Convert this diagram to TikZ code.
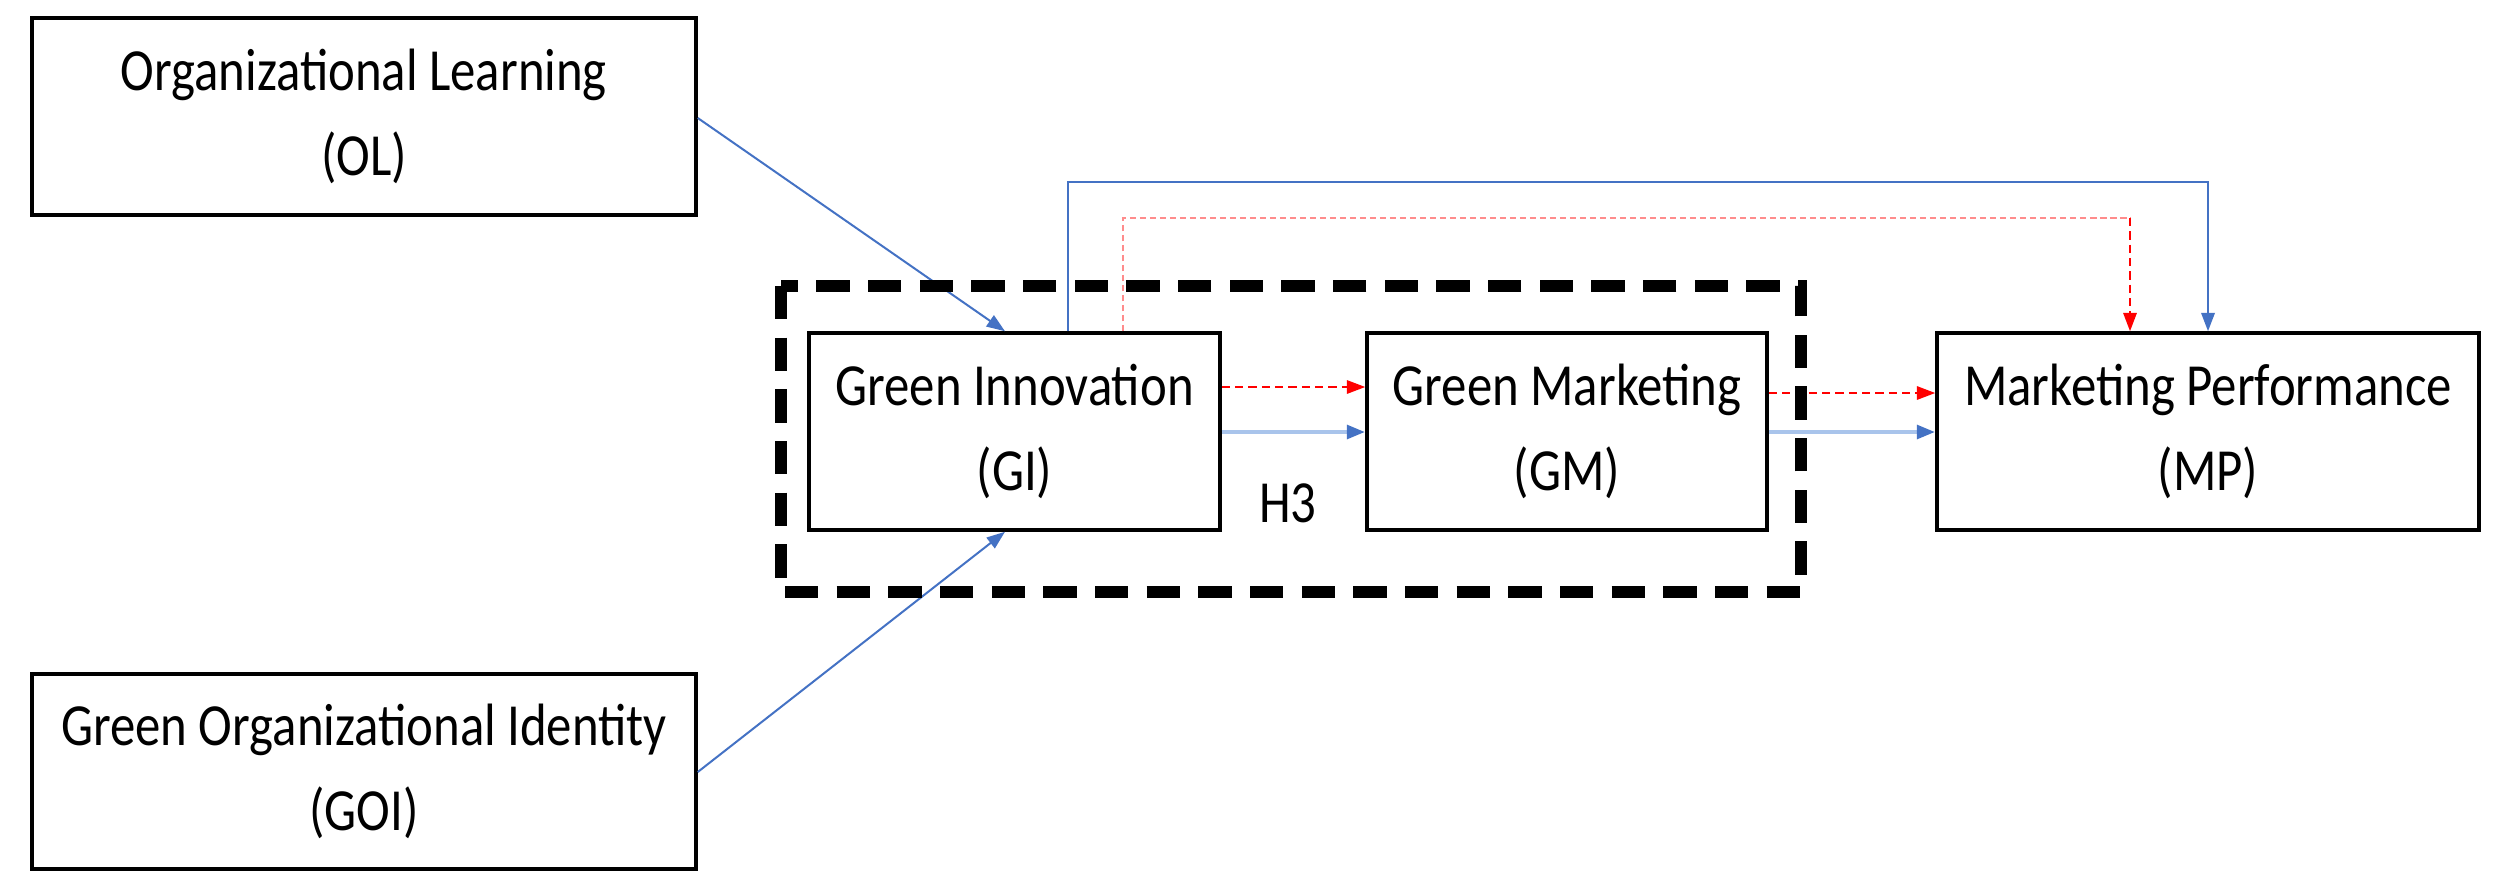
\documentclass[tikz,border=0pt]{standalone}
\usepackage{fontspec}
\setmainfont{Carlito}[FakeStretch=0.85]
\usetikzlibrary{arrows.meta}
\definecolor{bl}{HTML}{4472C4}
\definecolor{lbl}{HTML}{A9C4EB}
\begin{document}
\begin{tikzpicture}[x=0.03cm,y=-0.03cm,
  box/.style={draw=black,line width=3.5*0.03cm,fill=white,align=center,inner sep=0pt,
    font={\fontsize{51}{72}\selectfont}},
  bar/.style={line width=0.06cm,draw=bl,-{Triangle[length=0.55cm,width=0.4cm]}},
  rd/.style={line width=0.06cm,draw=red,dash pattern=on 0.25cm off 0.15cm,-{Triangle[length=0.55cm,width=0.4cm,color=red]}},
  lb/.style={line width=0.13cm,draw=lbl,-{Triangle[length=0.55cm,width=0.4cm,color=bl]}}]
\useasboundingbox (0,0) rectangle (2497,889);
\node[box,minimum width=664*0.03cm,minimum height=197*0.03cm] (OL) at (364,116.5) {Organizational Learning\\(OL)};
\node[box,minimum width=664*0.03cm,minimum height=195*0.03cm] (GOI) at (364,771.5) {Green Organizational Identity\\(GOI)};
\node[box,minimum width=411*0.03cm,minimum height=197*0.03cm] (GI) at (1014.5,431.5) {Green Innovation\\(GI)};
\node[box,minimum width=400*0.03cm,minimum height=197*0.03cm] (GM) at (1567,431.5) {Green Marketing\\(GM)};
\node[box,minimum width=542*0.03cm,minimum height=197*0.03cm] (MP) at (2208,431.5) {Marketing Performance\\(MP)};
\node[font={\fontsize{51}{72}\selectfont}] (H3) at (1288,503) {H3};
\coordinate (a1) at (1068,182);
\coordinate (a2) at (2208,182);
\coordinate (b1) at (1123,218);
\coordinate (b2) at (2130,218);
\draw[bar] (OL.east |- 0,118) -- (GI.north -| 1005,0);
\draw[bar] (GOI.east |- 0,772) -- (GI.south -| 1005,0);
\draw[bl,line width=0.07cm,-{Triangle[length=0.55cm,width=0.4cm]}] (GI.north -| a1) -- (a1) -- (a2) -- (MP.north -| a2);
\draw[red!45,line width=0.05cm,dash pattern=on 0.2cm off 0.1cm] (GI.north -| b1) -- (b1) -- (b2);
\draw[rd] (b2) -- (MP.north -| b2);
\draw[rd] (GI.east |- 0,387) -- (GM.west |- 0,387);
\draw[rd] (GM.east |- 0,393) -- (MP.west |- 0,393);
\draw[lb] (GI.east |- 0,432) -- (GM.west |- 0,432);
\draw[lb] (GM.east |- 0,432) -- (MP.west |- 0,432);
\draw[line width=0.36cm,dash pattern=on 1.0cm off 0.55cm] (781,286) rectangle (1801,592);
\end{tikzpicture}
\end{document}
